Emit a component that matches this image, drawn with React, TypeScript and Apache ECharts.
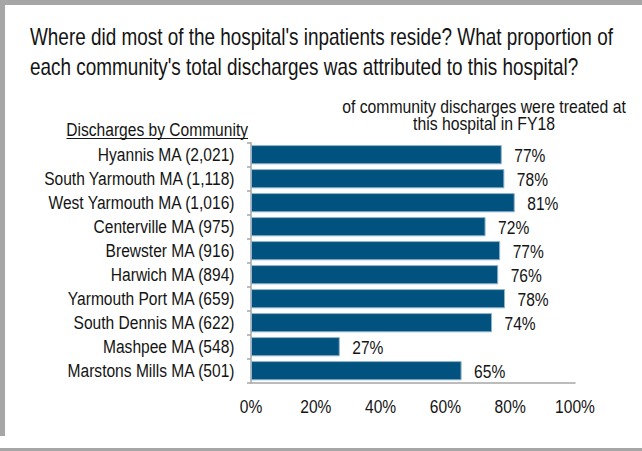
import React, { useEffect, useRef } from "react";
import * as echarts from "echarts";

const communities = [
  "Hyannis MA (2,021)",
  "South Yarmouth MA (1,118)",
  "West Yarmouth MA (1,016)",
  "Centerville MA (975)",
  "Brewster MA (916)",
  "Harwich MA (894)",
  "Yarmouth Port MA (659)",
  "South Dennis MA (622)",
  "Mashpee MA (548)",
  "Marstons Mills MA (501)",
];
const shares = [77.4, 78.2, 81.4, 72.4, 76.9, 76.3, 78.4, 74.4, 27.4, 65.0];
const xTicks = [0, 20, 40, 60, 80, 100];

const titleText =
  "Where did most of the hospital's inpatients reside? What proportion of\neach community's total discharges was attributed to this hospital?";
const subtitleText = "of community discharges were treated at\nthis hospital in FY18";
const leftHeader = "Discharges by Community";

const FONT = "'Liberation Sans', Arial, sans-serif";
const GRAY = "#a6a6a6";
const INK = "#141414";
const NARROW = 0.82;

export default function App() {
  const ref = useRef<HTMLDivElement>(null);
  useEffect(() => {
    if (!ref.current) return;
    const chart = echarts.init(ref.current, null, { renderer: "svg" });
    const lastIdx = communities.length - 1;
    chart.setOption({
      animation: false,
      backgroundColor: "#ffffff",
      textStyle: { fontFamily: FONT },
      grid: { left: 251, right: 67, top: 142.7, bottom: 68.3, containLabel: false },
      xAxis: {
        type: "value",
        min: 0,
        max: 100,
        interval: 20,
        axisLine: { show: true, lineStyle: { color: GRAY, width: 1.5 } },
        axisTick: { show: false },
        splitLine: { show: false },
        axisLabel: { show: false },
      },
      yAxis: {
        type: "category",
        data: communities,
        inverse: true,
        axisLine: { show: true, lineStyle: { color: GRAY, width: 1.5 } },
        axisTick: { show: true, length: 4, lineStyle: { color: GRAY, width: 1.5 } },
        axisLabel: { show: false },
      },
      series: [
        {
          type: "bar",
          data: shares,
          barCategoryGap: "20%",
          itemStyle: { color: "#02527f", borderColor: "#8fb3cc", borderWidth: 1 },
        },
        {
          // category labels (condensed)
          type: "custom",
          silent: true,
          data: communities.map((_, i) => [0, i]),
          renderItem: (params: any, api: any) => {
            const i = api.value(1);
            const pt = api.coord([0, i]);
            return {
              type: "text",
              x: pt[0] - 16.5,
              y: pt[1],
              scaleX: NARROW,
              style: {
                text: communities[i],
                textAlign: "right",
                textVerticalAlign: "middle",
                fontFamily: FONT,
                fontSize: 19,
                fill: INK,
              },
            };
          },
        },
        {
          // value labels (condensed)
          type: "custom",
          silent: true,
          data: shares.map((v, i) => [v, i]),
          renderItem: (params: any, api: any) => {
            const v = api.value(0);
            const i = api.value(1);
            const pt = api.coord([v, i]);
            return {
              type: "text",
              x: pt[0] + 12.5,
              y: pt[1] + 1,
              scaleX: NARROW,
              style: {
                text: Math.round(v) + "%",
                textAlign: "left",
                textVerticalAlign: "middle",
                fontFamily: FONT,
                fontSize: 19,
                fill: INK,
              },
            };
          },
        },
        {
          // x axis tick labels (condensed)
          type: "custom",
          silent: true,
          data: xTicks.map((v) => [v, lastIdx]),
          renderItem: (params: any, api: any) => {
            const v = api.value(0);
            const pt = api.coord([v, lastIdx]);
            const band = api.size([0, 1])[1];
            return {
              type: "text",
              x: pt[0],
              y: pt[1] + band / 2 + 24,
              scaleX: NARROW,
              style: {
                text: v + "%",
                textAlign: "center",
                textVerticalAlign: "middle",
                fontFamily: FONT,
                fontSize: 19,
                fill: INK,
              },
            };
          },
        },
      ],
      graphic: [
        { type: "rect", shape: { x: 0, y: 0, width: 642, height: 5 }, style: { fill: GRAY }, silent: true },
        { type: "rect", shape: { x: 0, y: 0, width: 5, height: 436 }, style: { fill: GRAY }, silent: true },
        { type: "rect", shape: { x: 0, y: 448, width: 642, height: 3 }, style: { fill: GRAY }, silent: true },
        {
          type: "text",
          x: 30,
          y: 21.5,
          scaleX: 0.823,
          style: {
            text: titleText,
            textAlign: "left",
            textVerticalAlign: "top",
            fontFamily: FONT,
            fontSize: 23,
            lineHeight: 30,
            fill: INK,
          },
        },
        {
          type: "text",
          x: 484,
          y: 97.5,
          scaleX: 0.83,
          style: {
            text: subtitleText,
            textAlign: "center",
            textVerticalAlign: "top",
            fontFamily: FONT,
            fontSize: 19,
            lineHeight: 17.5,
            fill: INK,
          },
        },
        {
          type: "text",
          x: 248,
          y: 120,
          scaleX: NARROW,
          style: {
            text: leftHeader,
            textAlign: "right",
            textVerticalAlign: "top",
            fontFamily: FONT,
            fontSize: 19,
            lineHeight: 18,
            fill: INK,
          },
        },
        {
          type: "line",
          shape: { x1: 66.5, y1: 138.5, x2: 248, y2: 138.5 },
          style: { stroke: INK, lineWidth: 1 },
        },
      ],
    });
    return () => chart.dispose();
  }, []);
  return (
    <div
      ref={ref}
      style={{ position: "fixed", left: 0, top: 0, width: 642, height: 451, background: "#fff" }}
    />
  );
}
